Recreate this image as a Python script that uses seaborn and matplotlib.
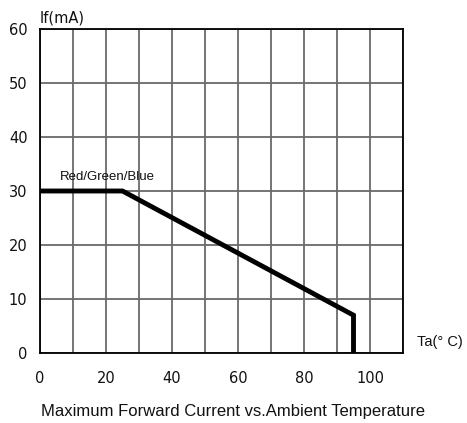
import matplotlib
matplotlib.use("Agg")
import matplotlib.pyplot as plt
import seaborn as sns
import pandas as pd

# Data
ta = [0, 25, 95, 95]
if_ma = [30, 30, 7, 0]
x_ticks = [0, 20, 40, 60, 80, 100]
y_ticks = [0, 10, 20, 30, 40, 50, 60]
series_label = "Red/Green/Blue"
title = "Maximum Forward Current vs.Ambient Temperature"

df = pd.DataFrame({"Ta": ta, "If": if_ma})

sns.set_style("white")
plt.rcParams['font.family'] = ['DejaVu Sans']

fig = plt.figure(figsize=(4.67, 4.23), dpi=100)
ax = fig.add_axes([40/467, 1 - 353/423, (403-40)/467, (353-29)/423])

sns.lineplot(data=df, x="Ta", y="If", ax=ax, color="black", linewidth=3.5,
             sort=False, estimator=None, solid_joinstyle="miter")

ax.set_xlim(0, 110)
ax.set_ylim(0, 60)
ax.set_xticks(range(0, 111, 10), minor=False)
ax.set_xticklabels([str(v) if v in x_ticks else "" for v in range(0, 111, 10)])
ax.set_yticks(y_ticks)
ax.set_yticklabels([str(v) for v in y_ticks])
ax.grid(True, color="#6a6a6a", linewidth=1.3)
ax.set_axisbelow(True)
ax.tick_params(axis="both", length=0, labelsize=10.5, colors="#111111")
ax.tick_params(axis="x", pad=13)
ax.tick_params(axis="y", pad=9)
for s in ax.spines.values():
    s.set_visible(True)
    s.set_color("black")
    s.set_linewidth(1.3)
ax.set_xlabel("")
ax.set_ylabel("")

fig.text(40/467, 1 - 18/423, "If(mA)", ha="left", va="center", fontsize=10.5,
         color="#111111")
fig.text(417/467, 1 - 342/423, "Ta(° C)", ha="left", va="center", fontsize=10.5,
         family="Liberation Sans", color="#111111")
ax.text(6, 32.5, series_label, ha="left", va="center", fontsize=9.5,
        family="Liberation Sans", color="#111111")
fig.text(233/467, 1 - 411/423, title, ha="center", va="center", fontsize=12,
         family="Liberation Sans", color="#111111")

fig.savefig("out.png", dpi=100)
